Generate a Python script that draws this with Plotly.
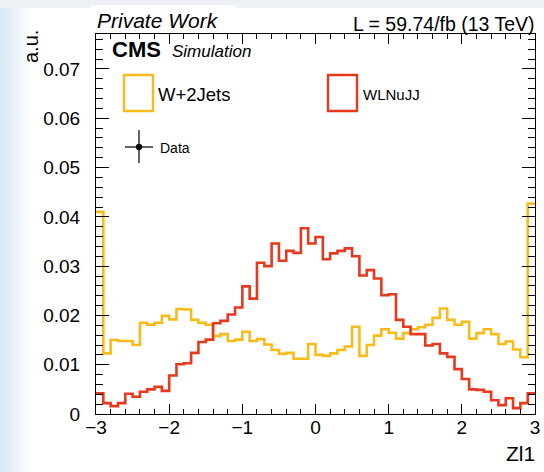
import numpy as np
import plotly.graph_objects as go

# ---- histogram contents (60 bins, width 0.1, from -3 to 3) ----
bin_edges = np.round(np.linspace(-3.0, 3.0, 61), 2)

w2jets = [
    0.0410, 0.0123, 0.0150, 0.0148, 0.0148, 0.0140, 0.0185, 0.0181, 0.0185, 0.0199,
    0.0192, 0.0213, 0.0212, 0.0191, 0.0185, 0.0181, 0.0158, 0.0162, 0.0148, 0.0151,
    0.0167, 0.0148, 0.0152, 0.0141, 0.0130, 0.0122, 0.0124, 0.0112, 0.0112, 0.0142,
    0.0120, 0.0118, 0.0123, 0.0130, 0.0137, 0.0177, 0.0118, 0.0140, 0.0159, 0.0172,
    0.0165, 0.0153, 0.0164, 0.0172, 0.0176, 0.0181, 0.0195, 0.0214, 0.0191, 0.0181,
    0.0187, 0.0153, 0.0164, 0.0172, 0.0162, 0.0142, 0.0147, 0.0131, 0.0115, 0.0427,
]

wlnujj = [
    0.0042, 0.0022, 0.0016, 0.0022, 0.0041, 0.0035, 0.0045, 0.0050, 0.0055, 0.0047,
    0.0078, 0.0101, 0.0103, 0.0124, 0.0146, 0.0151, 0.0184, 0.0189, 0.0202, 0.0216,
    0.0259, 0.0234, 0.0307, 0.0300, 0.0346, 0.0311, 0.0331, 0.0327, 0.0377, 0.0346,
    0.0359, 0.0314, 0.0326, 0.0331, 0.0336, 0.0320, 0.0281, 0.0292, 0.0275, 0.0241,
    0.0243, 0.0191, 0.0177, 0.0162, 0.0162, 0.0139, 0.0142, 0.0123, 0.0116, 0.0091,
    0.0071, 0.0050, 0.0049, 0.0045, 0.0028, 0.0018, 0.0032, 0.0012, 0.0022, 0.0042,
]

x_ticks = [-3, -2, -1, 0, 1, 2, 3]
y_ticks = [0, 0.01, 0.02, 0.03, 0.04, 0.05, 0.06, 0.07]

YELLOW = "#f8bc1a"
RED = "#e7391d"
FONT = "Liberation Sans, Arial, Helvetica, sans-serif"

# ---- canvas geometry (pixels) ----
WIDTH, HEIGHT = 544, 472
L, R, T, B = 96, 535, 34, 414
PW, PH = R - L, B - T


def px(x):
    return (x - L) / PW


def py(y):
    return (B - y) / PH


fig = go.Figure()

for name, vals, col in [("W+2Jets", w2jets, YELLOW), ("WLNuJJ", wlnujj, RED)]:
    fig.add_trace(go.Scatter(
        x=bin_edges,
        y=list(vals) + [vals[-1]],
        mode="lines",
        line=dict(color=col, width=2.6, shape="hv"),
        name=name,
        showlegend=False,
        hoverinfo="skip",
    ))

shapes = []

# soft bluish fade along the left border
n_strips = 16
for i in range(n_strips):
    f = i / (n_strips - 1)
    r = int(214 + (255 - 214) * f)
    g = int(233 + (255 - 233) * f)
    b = int(245 + (255 - 245) * f)
    shapes.append(dict(type="rect", xref="paper", yref="paper",
                       x0=px(i * 2), x1=px(i * 2 + 2), y0=py(HEIGHT), y1=py(0),
                       fillcolor=f"rgb({r},{g},{b})", line=dict(width=0), layer="below"))
# light band at the very top, and the white box behind the "Private Work" label
shapes.append(dict(type="rect", xref="paper", yref="paper",
                   x0=px(0), x1=px(WIDTH), y0=py(8), y1=py(0),
                   fillcolor="#eef1f4", line=dict(width=0), layer="below"))
shapes.append(dict(type="rect", xref="paper", yref="paper",
                   x0=px(91), x1=px(236), y0=py(33), y1=py(5),
                   fillcolor="white", line=dict(width=0), layer="below"))

# legend boxes
for x0, col in [(124, YELLOW), (328, RED)]:
    shapes.append(dict(type="rect", xref="paper", yref="paper",
                       x0=px(x0), x1=px(x0 + 29), y0=py(111), y1=py(75),
                       line=dict(color=col, width=2.4), fillcolor="rgba(0,0,0,0)"))
# "Data" legend marker: error cross with a dot
shapes.append(dict(type="line", xref="paper", yref="paper",
                   x0=px(125), x1=px(153), y0=py(147), y1=py(147),
                   line=dict(color="black", width=1.2)))
shapes.append(dict(type="line", xref="paper", yref="paper",
                   x0=px(139), x1=px(139), y0=py(130), y1=py(163),
                   line=dict(color="black", width=1.2)))
shapes.append(dict(type="circle", xref="paper", yref="paper",
                   x0=px(136), x1=px(142), y0=py(150), y1=py(144),
                   fillcolor="black", line=dict(color="black", width=0.5)))


def ann(text, x, y, size, xanchor="left", yanchor="middle", **kw):
    return dict(text=text, xref="paper", yref="paper", x=px(x), y=py(y),
                xanchor=xanchor, yanchor=yanchor, showarrow=False,
                font=dict(family=FONT, size=size, color="black"), **kw)


annotations = [
    ann("<i>Private Work</i>", 95, 20, 21),
    ann("L = 59.74/fb (13 TeV)", 537, 24, 19.5, xanchor="right"),
    ann("<b>CMS</b>", 110, 49, 22),
    ann("<i>Simulation</i>", 170, 51, 17),
    ann("W+2Jets", 156, 94, 18.5),
    ann("WLNuJJ", 361, 94, 15),
    ann("Data", 158, 148, 14),
    ann("a.u.", 31, 47, 20, xanchor="center", textangle=-90),
    ann("Zl1", 537, 453, 21, xanchor="right"),
]

axis_common = dict(
    showline=True, linecolor="black", linewidth=1, mirror="allticks",
    ticks="inside", tickcolor="black", tickwidth=1,
    showgrid=False, zeroline=False,
    tickfont=dict(family=FONT, size=19, color="black"),
)

fig.update_layout(
    width=WIDTH, height=HEIGHT,
    margin=dict(l=L, r=WIDTH - R, t=T, b=HEIGHT - B, autoexpand=False),
    paper_bgcolor="white", plot_bgcolor="white",
    showlegend=False,
    shapes=shapes,
    annotations=annotations,
    xaxis=dict(range=[-3, 3], tickmode="array", tickvals=x_ticks,
               ticktext=[f"\u2212{abs(v)}" if v < 0 else str(v) for v in x_ticks],
               ticklen=10, ticklabelstandoff=-4,
               minor=dict(ticks="inside", ticklen=5, dtick=0.2, tick0=0,
                          tickcolor="black", showgrid=False),
               **axis_common),
    yaxis=dict(range=[0, 0.0771], tickmode="array", tickvals=y_ticks,
               ticktext=[("0" if v == 0 else f"{v:.2f}") for v in y_ticks],
               ticklen=13, ticklabelstandoff=11,
               minor=dict(ticks="inside", ticklen=7, dtick=0.002, tick0=0,
                          tickcolor="black", showgrid=False),
               **axis_common),
)

fig.write_html("out.html")
